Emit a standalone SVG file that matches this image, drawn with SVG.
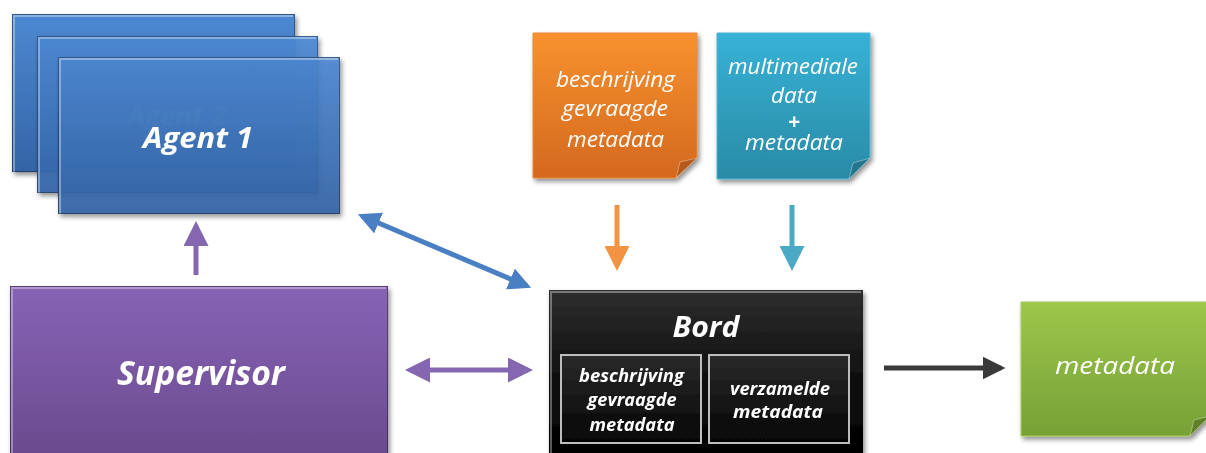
<svg xmlns="http://www.w3.org/2000/svg" width="1206" height="453" viewBox="0 0 1206 453">
  <defs>
    <linearGradient id="gBlue" x1="0" y1="0" x2="0" y2="1">
      <stop offset="0" stop-color="#4d88d2"/>
      <stop offset="1" stop-color="#3464a6"/>
    </linearGradient>
    <linearGradient id="gPurple" x1="0" y1="0" x2="0" y2="1">
      <stop offset="0" stop-color="#8763b6"/>
      <stop offset="1" stop-color="#6a4a8e"/>
    </linearGradient>
    <linearGradient id="gBlack" x1="0" y1="0" x2="0" y2="1">
      <stop offset="0" stop-color="#2e2e2e"/>
      <stop offset="0.5" stop-color="#111"/>
      <stop offset="1" stop-color="#000"/>
    </linearGradient>
    <linearGradient id="gInner" x1="0" y1="0" x2="0" y2="1">
      <stop offset="0" stop-color="#2a2a2a"/>
      <stop offset="1" stop-color="#050505"/>
    </linearGradient>
    <linearGradient id="gOrange" x1="0" y1="0" x2="0" y2="1">
      <stop offset="0" stop-color="#f7922f"/>
      <stop offset="1" stop-color="#d4681e"/>
    </linearGradient>
    <linearGradient id="gTeal" x1="0" y1="0" x2="0" y2="1">
      <stop offset="0" stop-color="#37b2d6"/>
      <stop offset="1" stop-color="#2a8aa6"/>
    </linearGradient>
    <linearGradient id="gGreen" x1="0" y1="0" x2="0" y2="1">
      <stop offset="0" stop-color="#9cc74a"/>
      <stop offset="1" stop-color="#77a036"/>
    </linearGradient>
    <filter id="shadow" x="-10%" y="-10%" width="125%" height="130%">
      <feGaussianBlur in="SourceAlpha" stdDeviation="2.5"/>
      <feOffset dx="2" dy="3" result="b"/>
      <feComponentTransfer><feFuncA type="linear" slope="0.45"/></feComponentTransfer>
      <feMerge><feMergeNode/><feMergeNode in="SourceGraphic"/></feMerge>
    </filter>
    <marker id="mBlue" viewBox="0 0 10 10" refX="8" refY="5" markerWidth="4.5" markerHeight="4.5" orient="auto-start-reverse">
      <path d="M0,0 L10,5 L0,10 z" fill="#4a7fc4"/>
    </marker>
    <marker id="mPurple" viewBox="0 0 10 10" refX="8" refY="5" markerWidth="5" markerHeight="5" orient="auto-start-reverse">
      <path d="M0,0 L10,5 L0,10 z" fill="#8566b0"/>
    </marker>
    <marker id="mOrange" viewBox="0 0 10 10" refX="8" refY="5" markerWidth="5" markerHeight="5" orient="auto">
      <path d="M0,0 L10,5 L0,10 z" fill="#f39341"/>
    </marker>
    <marker id="mTeal" viewBox="0 0 10 10" refX="8" refY="5" markerWidth="5" markerHeight="5" orient="auto">
      <path d="M0,0 L10,5 L0,10 z" fill="#4aaac6"/>
    </marker>
    <marker id="mDark" viewBox="0 0 10 10" refX="8" refY="5" markerWidth="4.5" markerHeight="4.5" orient="auto">
      <path d="M0,0 L10,5 L0,10 z" fill="#3a3a3a"/>
    </marker>
  </defs>
  <style>
    .lbl { font-family: "Open Sans", Lato, "Liberation Sans", sans-serif; fill: #fff; text-anchor: middle; font-style: italic; }
    .b { font-weight: bold; }
    .bevel { fill: none; stroke: rgba(255,255,255,0.35); stroke-width: 2; }
    .edge { fill: none; stroke: rgba(0,0,0,0.35); stroke-width: 1; }
    .fold { stroke: rgba(255,255,255,0.35); stroke-width: 1; }
  </style>

  <!-- agent stack -->
  <g id="agent3" filter="url(#shadow)">
    <rect x="12" y="14" width="283" height="158" fill="url(#gBlue)"/>
    <path class="bevel" d="M14,172 L14,16 L293,16"/>
    <rect class="edge" x="12.5" y="14.5" width="282" height="157"/>
    <text class="lbl b" x="155" y="99" font-size="27" fill-opacity="0.08" textLength="99" lengthAdjust="spacingAndGlyphs">Agent 3</text>
  </g>
  <g id="agent2" filter="url(#shadow)" opacity="0.95">
    <rect x="37" y="36" width="281" height="157" fill="url(#gBlue)"/>
    <path class="bevel" d="M39,193 L39,38 L316,38"/>
    <rect class="edge" x="37.5" y="36.5" width="280" height="156"/>
    <text class="lbl b" x="177" y="125" font-size="27" fill-opacity="0.4" textLength="99" lengthAdjust="spacingAndGlyphs">Agent 2</text>
  </g>
  <g id="agent1" filter="url(#shadow)">
    <rect x="58" y="57" width="282" height="157" fill="url(#gBlue)" opacity="0.9"/>
    <path class="bevel" d="M60,214 L60,59 L338,59"/>
    <rect class="edge" x="58.5" y="57.5" width="281" height="156"/>
    <text class="lbl b" x="198" y="148" font-size="28" textLength="110" lengthAdjust="spacingAndGlyphs">Agent 1</text>
  </g>

  <!-- supervisor -->
  <g id="supervisor" filter="url(#shadow)">
    <rect x="10" y="286" width="378" height="172" fill="url(#gPurple)"/>
    <path class="bevel" d="M12,458 L12,288 L386,288"/>
    <rect class="edge" x="10.5" y="286.5" width="377" height="171"/>
    <text class="lbl b" x="201" y="385" font-size="34" textLength="168" lengthAdjust="spacingAndGlyphs">Supervisor</text>
  </g>

  <!-- input notes -->
  <g id="note-beschrijving" filter="url(#shadow)">
    <path d="M533,33 L697,33 L697,158 L676,178 L533,178 z" fill="url(#gOrange)" stroke="#e9883a" stroke-width="1"/>
    <path d="M676,178 L680,162 L697,158 z" fill="#b55a1a" class="fold"/>
    <text class="lbl" x="615.5" y="87" font-size="21" textLength="119" lengthAdjust="spacingAndGlyphs">beschrijving</text>
    <text class="lbl" x="615" y="116" font-size="21" textLength="106" lengthAdjust="spacingAndGlyphs">gevraagde</text>
    <text class="lbl" x="615.5" y="147" font-size="21" textLength="97" lengthAdjust="spacingAndGlyphs">metadata</text>
  </g>
  <g id="note-multimedia" filter="url(#shadow)">
    <path d="M717,33 L870,33 L870,158 L849,179 L717,179 z" fill="url(#gTeal)" stroke="#4fb6d4" stroke-width="1"/>
    <path d="M849,179 L853,163 L870,158 z" fill="#23758d" class="fold"/>
    <text class="lbl" x="793" y="74" font-size="21" textLength="130" lengthAdjust="spacingAndGlyphs">multimediale</text>
    <text class="lbl" x="794" y="103" font-size="21" textLength="46" lengthAdjust="spacingAndGlyphs">data</text>
    <text class="lbl b" x="794" y="129" font-size="21">+</text>
    <text class="lbl" x="794" y="150" font-size="21" textLength="98" lengthAdjust="spacingAndGlyphs">metadata</text>
  </g>

  <!-- board -->
  <g id="bord" filter="url(#shadow)">
    <rect x="549" y="290" width="314" height="168" fill="url(#gBlack)"/>
    <path class="bevel" d="M551,458 L551,292 L861,292" stroke="rgba(255,255,255,0.25)"/>
    <text class="lbl b" x="706" y="337" font-size="29" textLength="67" lengthAdjust="spacingAndGlyphs">Bord</text>
    <g id="bord-beschrijving">
      <rect x="561" y="355" width="140" height="88" fill="url(#gInner)" stroke="#bdbdbd" stroke-width="2"/>
      <text class="lbl b" x="631.5" y="382" font-size="17" textLength="105" lengthAdjust="spacingAndGlyphs">beschrijving</text>
      <text class="lbl b" x="632" y="406" font-size="17" textLength="89" lengthAdjust="spacingAndGlyphs">gevraagde</text>
      <text class="lbl b" x="632" y="431" font-size="17" textLength="85" lengthAdjust="spacingAndGlyphs">metadata</text>
    </g>
    <g id="bord-verzamelde">
      <rect x="709" y="355" width="140" height="88" fill="url(#gInner)" stroke="#bdbdbd" stroke-width="2"/>
      <text class="lbl b" x="780" y="395" font-size="17" textLength="100" lengthAdjust="spacingAndGlyphs">verzamelde</text>
      <text class="lbl b" x="778" y="418" font-size="17" textLength="90" lengthAdjust="spacingAndGlyphs">metadata</text>
    </g>
  </g>

  <!-- output note -->
  <g id="note-output" filter="url(#shadow)">
    <path d="M1021,302 L1210,302 L1210,416 L1190,436 L1021,436 z" fill="url(#gGreen)" stroke="#a6cd5e" stroke-width="1"/>
    <path d="M1190,436 L1194,420 L1210,416 z" fill="#5e8226" class="fold"/>
    <text class="lbl" x="1115" y="374" font-size="24" textLength="120" lengthAdjust="spacingAndGlyphs">metadata</text>
  </g>

  <!-- connectors -->
  <g id="connectors" fill="none" stroke-width="5">
    <line x1="196" y1="275" x2="196" y2="226" stroke="#8566b0" marker-end="url(#mPurple)"/>
    <line x1="362" y1="216" x2="527" y2="286" stroke="#4a7fc4" marker-start="url(#mBlue)" marker-end="url(#mBlue)"/>
    <line x1="410" y1="370" x2="528" y2="370" stroke="#8566b0" marker-start="url(#mPurple)" marker-end="url(#mPurple)"/>
    <line x1="617" y1="205" x2="617" y2="266" stroke="#f39341" marker-end="url(#mOrange)"/>
    <line x1="792" y1="205" x2="792" y2="266" stroke="#4aaac6" marker-end="url(#mTeal)"/>
    <line x1="884" y1="368" x2="1001" y2="368" stroke="#3a3a3a" marker-end="url(#mDark)"/>
  </g>
</svg>
